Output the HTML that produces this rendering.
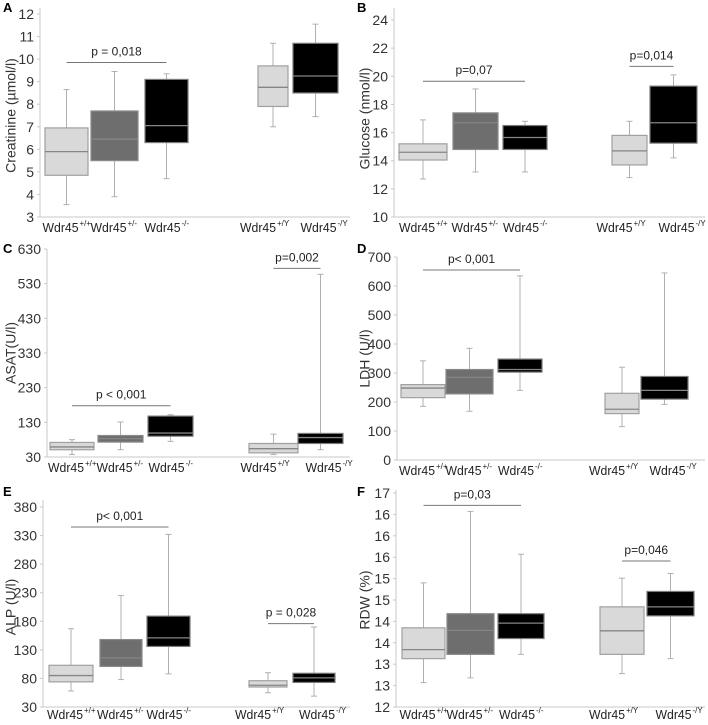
<!DOCTYPE html>
<html><head><meta charset="utf-8"><style>
body{margin:0;background:#fff}
svg{display:block;font-family:"Liberation Sans",sans-serif}
</style></head><body>
<svg id="fig" width="708" height="725" viewBox="0 0 708 725" xmlns="http://www.w3.org/2000/svg"></svg>
<script>
// Data arrays (min, q1, median, q3, max per group)
const categories = ["+/+","+/-","-/-","+/Y","-/Y"];
const creatinine = [[3.55,4.85,5.9,6.95,8.65],[3.9,5.5,6.45,7.7,9.45],[4.7,6.3,7.05,9.1,9.35],[7.0,7.9,8.75,9.7,10.7],[7.45,8.5,9.25,10.7,11.55]];
const glucose = [[12.7,14.05,14.6,15.2,16.9],[13.2,14.8,16.7,17.4,19.1],[13.2,14.8,15.65,16.5,16.8],[12.8,13.7,14.7,15.8,16.8],[14.2,15.25,16.7,19.3,20.1]];
const asat = [[37,51,59,72,80],[51,73,83,92,131],[75,90,99,148,152],[37,42,54,69,96],[51,69,86,98,557]];
const ldh = [[185,215,248,260,342],[168,228,285,312,385],[240,303,312,348,635],[115,160,175,230,320],[192,210,240,288,645]];
const alp = [[58,74,85,103,167],[78,101,116,148,225],[88,136,151,189,332],[55,65,68,76,90],[49,73,81,89,170]];
const rdw = [[12.57,13.13,13.34,13.85,14.9],[12.68,13.23,13.79,14.18,16.57],[13.23,13.6,13.96,14.18,15.57],[12.78,13.23,13.78,14.34,15.01],[13.13,14.13,14.34,14.7,15.12]];
const ticksA = [3,4,5,6,7,8,9,10,11,12];
const ticksB = [10,12,14,16,18,20,22,24];
const ticksC = [30,130,230,330,430,530,630];
const ticksD = [0,100,200,300,400,500,600,700];
const ticksE = [30,80,130,180,230,280,330,380];
const ticksF = [12,12.5,13,13.5,14,14.5,15,15.5,16,16.5,17];
const tickLabelsF = ["12","13","13","14","14","15","15","16","16","16","17"];
const pA = [{v:9.85,a:0,b:2,t:"p = 0,018"}];
const pB = [{v:19.65,a:0,b:2,t:"p=0,07"},{v:20.7,a:3,b:4,t:"p=0,014"}];
const pC = [{v:178,a:0,b:2,t:"p < 0,001"},{v:574,a:3,b:4,t:"p=0,002"}];
const pD = [{v:655,a:0,b:2,t:"p< 0,001"}];
const pE = [{v:345,a:0,b:2,t:"p< 0,001"},{v:176,a:3,b:4,t:"p = 0,028"}];
const pF = [{v:16.71,a:0,b:2,t:"p=0,03"},{v:15.41,a:3,b:4,t:"p=0,046"}];

const NS="http://www.w3.org/2000/svg";
const svg=document.getElementById('fig');
function mk(tag,attrs,parent){const e=document.createElementNS(NS,tag);for(const k in attrs)e.setAttribute(k,attrs[k]);(parent||svg).appendChild(e);return e;}
const fills=["#d9d9d9","#6e6e6e","#000","#d9d9d9","#000"];
const strokes=["#a0a0a0","#8a8a8a","#7a7a7a","#a0a0a0","#7a7a7a"];
const labelOffsets=[-24,-24,-22,-33,-15];

const panels=[
 {id:"A",name:"creatinine",title:"Creatinine (µmol/l)",data:creatinine,ticks:ticksA,tl:null,ax:40,y0:217,y1:14,vmin:3,vmax:12,top:8,right:350,
  boxes:[[45,88],[91,138],[145,188],[258,288],[293,338]],lab:232,tx:12,p:pA},
 {id:"B",name:"glucose",title:"Glucose (nmol/l)",data:glucose,ticks:ticksB,tl:null,ax:394,y0:217,y1:20,vmin:10,vmax:24,top:8,right:705,
  boxes:[[399,447],[453,498],[503,547],[612,647],[650,697]],lab:232,tx:366,p:pB},
 {id:"C",name:"asat",title:"ASAT(U/l)",data:asat,ticks:ticksC,tl:null,ax:47,y0:457,y1:249,vmin:30,vmax:630,top:249,right:350,
  boxes:[[50,94],[98,143],[148,193],[249,298],[298,343]],lab:472,tx:12,p:pC},
 {id:"D",name:"ldh",title:"LDH (U/l)",data:ldh,ticks:ticksD,tl:null,ax:397,y0:460,y1:257,vmin:0,vmax:700,top:257,right:705,
  boxes:[[401,445],[446,493],[498,542],[605,639],[641,688]],lab:475,tx:366,p:pD},
 {id:"E",name:"alp",title:"ALP (U/l)",data:alp,ticks:ticksE,tl:null,ax:43,y0:707,y1:507,vmin:30,vmax:380,top:500,right:350,
  boxes:[[49,93],[100,142],[147,190],[249,287],[293,335]],lab:719,tx:12,p:pE},
 {id:"F",name:"rdw",title:"RDW (%)",data:rdw,ticks:ticksF,tl:tickLabelsF,ax:396,y0:707,y1:493,vmin:12,vmax:17,top:490,right:705,
  boxes:[[402,445],[447,494],[498,544],[600,644],[647,694]],lab:719,tx:366,p:pF}
];
const letterPos={A:[3,12],B:[357,12],C:[3,253],D:[357,253],E:[3,496],F:[357,496]};

panels.forEach(P=>{
  const g=mk('g',{});
  
  
  const y=v=>P.y0-(v-P.vmin)/(P.vmax-P.vmin)*(P.y0-P.y1);
  const L=mk('text',{x:letterPos[P.id][0],y:letterPos[P.id][1],'font-size':13,'font-weight':'bold',fill:'#000'},g);
  L.textContent=P.id;
  
  
  const ya=mk('line',{x1:P.ax,x2:P.ax,y1:P.top,y2:P.y0,stroke:'#c8c8c8','stroke-width':1},g);
  
  
  const xa=mk('line',{x1:P.ax,x2:P.right,y1:P.y0,y2:P.y0,stroke:'#c8c8c8','stroke-width':1},g);
  
  
  P.ticks.forEach((t,i)=>{
    mk('line',{x1:P.ax-3,x2:P.ax,y1:y(t),y2:y(t),stroke:'#c8c8c8'},g);
    const tx=mk('text',{x:P.ax-6,y:y(t)+5,'font-size':14,'text-anchor':'end',fill:'#333'},g);
    tx.textContent=P.tl?P.tl[i]:String(t);
    
    
  });
  const cy=(P.y0+P.y1)/2;
  const yt=mk('text',{x:P.tx,y:cy,'font-size':14,'text-anchor':'middle',fill:'#333',transform:`rotate(-90 ${P.tx} ${cy})`,'dominant-baseline':'middle'},g);
  yt.textContent=P.title;
  
  
  P.data.forEach((d,i)=>{
    const [x1,x2]=P.boxes[i]; const cx=(x1+x2)/2;
    const bg=mk('g',{},g);
    
    
    mk('line',{x1:cx,x2:cx,y1:y(d[0]),y2:y(d[4]),stroke:'#b0b0b0'},bg);
    mk('line',{x1:cx-3,x2:cx+3,y1:y(d[0]),y2:y(d[0]),stroke:'#b0b0b0'},bg);
    mk('line',{x1:cx-3,x2:cx+3,y1:y(d[4]),y2:y(d[4]),stroke:'#b0b0b0'},bg);
    mk('rect',{x:x1,y:y(d[3]),width:x2-x1,height:y(d[1])-y(d[3]),fill:fills[i],stroke:strokes[i],'stroke-width':1.2},bg);
    mk('line',{x1:x1,x2:x2,y1:y(d[2]),y2:y(d[2]),stroke:'#858585','stroke-width':1.3},bg);
    const lx=cx+labelOffsets[i];
    const lt=mk('text',{x:lx,y:P.lab,'font-size':13,fill:'#222',textLength:36,lengthAdjust:'spacingAndGlyphs'},g);
    
    
    lt.textContent='Wdr45';
    const sp=mk('text',{x:lx+37,y:P.lab-6,'font-size':8,fill:'#222'},g);
    
    
    sp.textContent=categories[i];
  });
  P.p.forEach(pp=>{
    const xa1=(P.boxes[pp.a][0]+P.boxes[pp.a][1])/2, xb=(P.boxes[pp.b][0]+P.boxes[pp.b][1])/2;
    const pl=mk('line',{x1:xa1,x2:xb,y1:y(pp.v),y2:y(pp.v),stroke:'#777'},g);
    
    
    const pt=mk('text',{x:(xa1+xb)/2,y:y(pp.v)-7,'font-size':12,'text-anchor':'middle',fill:'#222'},g);
    pt.textContent=pp.t;
    
    
  });
});
</script>
</body></html>
